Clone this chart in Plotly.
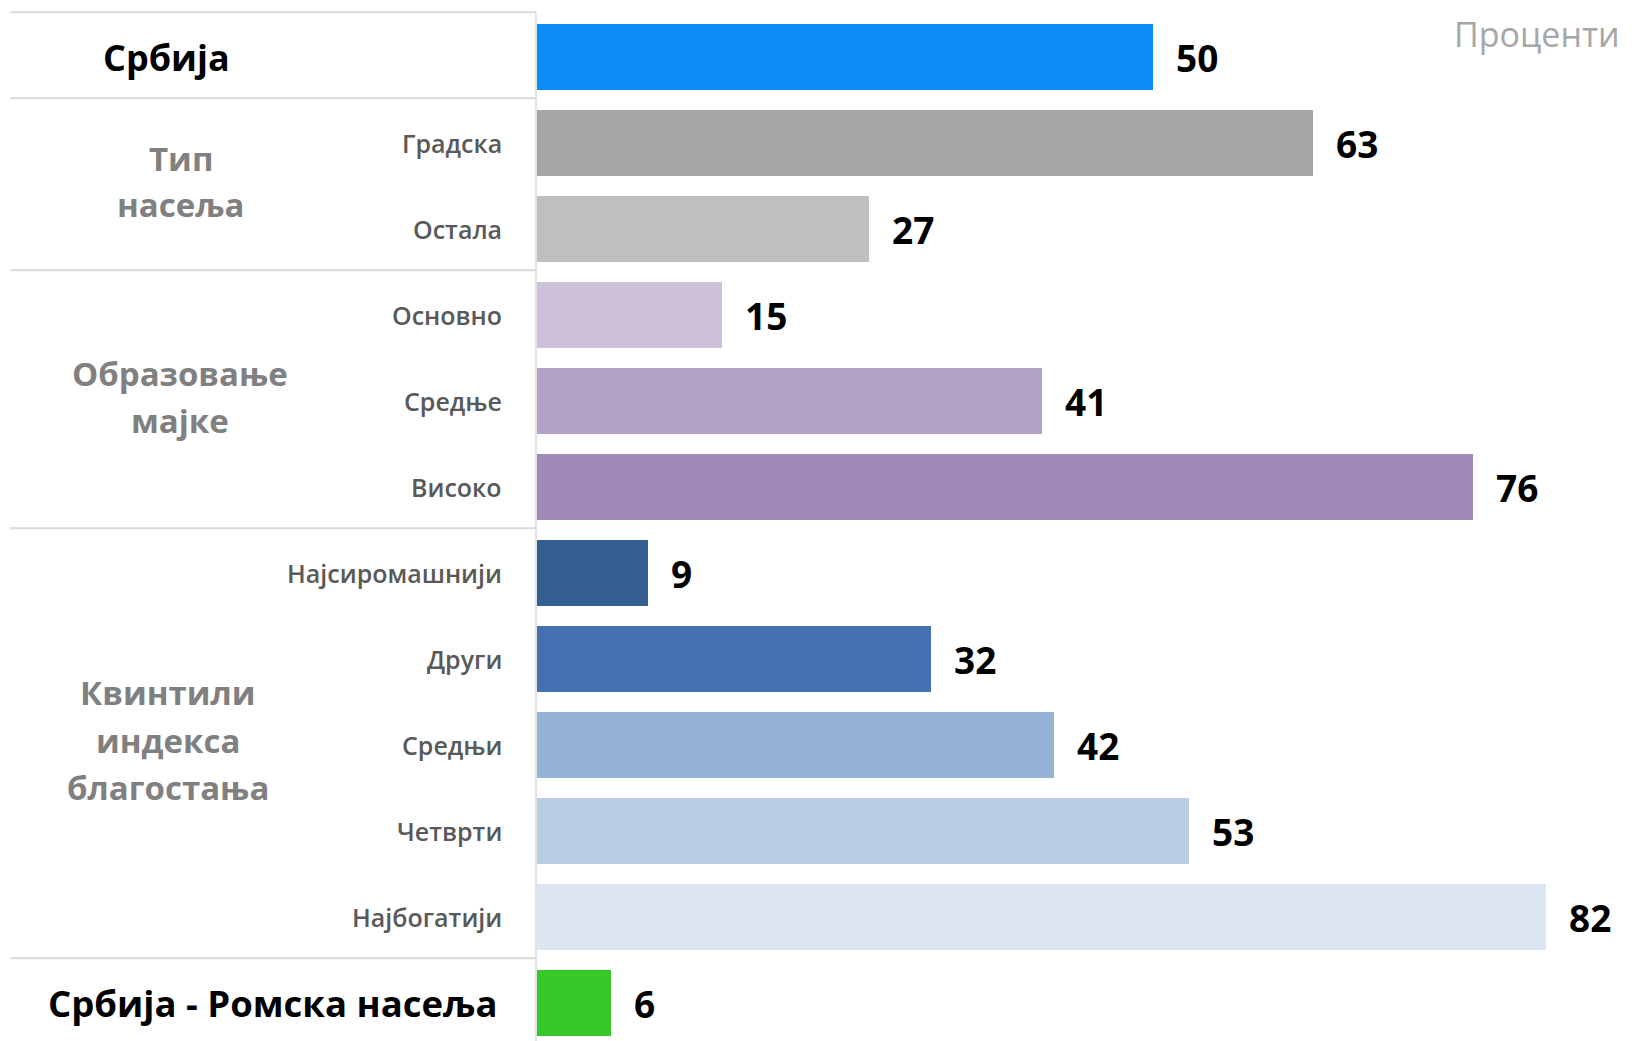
import plotly.graph_objects as go

# ---- data ----
categories = ["Србија", "Градска", "Остала", "Основно", "Средње", "Високо",
              "Најсиромашнији", "Други", "Средњи", "Четврти", "Најбогатији",
              "Србија - Ромска насеља"]
values = [50, 63, 27, 15, 41, 76, 9, 32, 42, 53, 82, 6]
bar_colors = ["#0A8BF7", "#A6A6A6", "#BFBFBF", "#CCC0DA", "#B3A2C7", "#A18AB9",
              "#365F91", "#4472B0", "#95B3D7", "#B9CDE5", "#DCE6F2", "#35C828"]
group_lines = [["Тип", "насеља"], ["Образовање", "мајке"], ["Квинтили", "индекса", "благостања"]]
unit_label = "Проценти"

# ---- layout constants (page pixels) ----
W, H = 1636, 1041
OFF = 8              # body margin of the html page
X0_PX = 537          # page pixel x of value 0
PX_PER_UNIT = 12.31
SLOT_PX = 86
TOP_PX = 14          # page pixel y of top edge of first slot


def px_to_x(px):
    return (px - X0_PX) / PX_PER_UNIT


def px_to_y(py):
    return -0.5 + (py - TOP_PX) / SLOT_PX


n = len(categories)
ypos = list(range(n))

fig = go.Figure()
fig.add_trace(go.Bar(
    x=values, y=ypos, orientation="h",
    marker=dict(color=bar_colors, line=dict(width=0)),
    width=66 / SLOT_PX, hoverinfo="x+text", hovertext=categories,
    showlegend=False,
))

annotations = []
# value labels
for v, yy in zip(values, ypos):
    annotations.append(dict(x=v, y=yy, text=str(v), showarrow=False,
                            xanchor="left", yanchor="middle", xshift=21,
                            font=dict(family="Open Sans", size=37, color="#000000", weight="bold")))
# row labels
for i, (c, yy) in enumerate(zip(categories, ypos)):
    if i == 0:
        annotations.append(dict(x=px_to_x(166), y=yy, text=c, showarrow=False,
                                xanchor="center", yanchor="middle",
                                font=dict(family="Open Sans", size=36, color="#000000", weight="bold")))
    elif i == n - 1:
        annotations.append(dict(x=px_to_x(272), y=yy, text=c, showarrow=False,
                                xanchor="center", yanchor="middle",
                                font=dict(family="Open Sans", size=36.5, color="#000000", weight="bold")))
    else:
        annotations.append(dict(x=px_to_x(504), y=yy, text=c, showarrow=False,
                                xanchor="right", yanchor="middle",
                                font=dict(family="Open Sans", size=25, color="#595959", weight=600)))
# group labels (one annotation per line)
group_x_px = [181, 180, 168]
group_y_px = [[158, 204], [373, 420], [692, 740, 787]]
for lines, gx, gys in zip(group_lines, group_x_px, group_y_px):
    for ln, gy in zip(lines, gys):
        annotations.append(dict(x=px_to_x(gx), y=px_to_y(gy), text=ln, showarrow=False,
                                xanchor="center", yanchor="middle",
                                font=dict(family="Open Sans", size=33, color="#808080", weight="bold")))
# unit label
annotations.append(dict(x=px_to_x(1622), y=px_to_y(OFF + 1), text=unit_label, showarrow=False,
                        xanchor="right", yanchor="top",
                        font=dict(family="Open Sans", size=34, color="#A6A6A6")))

shapes = []
for b in [-0.5, 0.5, 2.5, 5.5, 10.5]:
    shapes.append(dict(type="line", x0=px_to_x(10), x1=px_to_x(536), y0=b - 0.02, y1=b - 0.02,
                       line=dict(color="#D9D9D9", width=2), layer="below"))
shapes.append(dict(type="line", x0=px_to_x(536), x1=px_to_x(536), y0=-0.52, y1=px_to_y(H + 20),
                   line=dict(color="#D9D9D9", width=1.5), layer="below"))

fig.update_layout(
    width=W, height=H,
    margin=dict(l=0, r=0, t=0, b=0),
    paper_bgcolor="#FFFFFF", plot_bgcolor="#FFFFFF",
    xaxis=dict(range=[px_to_x(OFF), px_to_x(OFF + W)], visible=False, fixedrange=True),
    yaxis=dict(range=[px_to_y(OFF + H), px_to_y(OFF)], visible=False, fixedrange=True),
    annotations=annotations, shapes=shapes,
    bargap=0,
)

fig.write_html("out.html")
